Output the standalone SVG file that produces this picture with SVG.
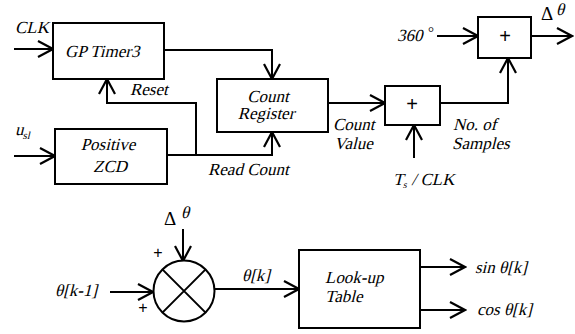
<svg xmlns="http://www.w3.org/2000/svg" width="575" height="334" viewBox="0 0 575 334">
<defs>
<marker id="arr" markerUnits="userSpaceOnUse" markerWidth="18" markerHeight="20" refX="16" refY="9" orient="auto" viewBox="0 0 18 20">
<path d="M1,1 L16,9 L1,17" fill="none" stroke="#000" stroke-width="2.2" stroke-linejoin="miter"/>
</marker>
<style>
.box{fill:#fff;stroke:#000;stroke-width:2}
.ln{fill:none;stroke:#000;stroke-width:2}
text{fill:#000;font-family:"Liberation Serif","Times New Roman",serif}
.t{font-size:17px}
.m{text-anchor:middle}
.s{font-family:"Liberation Sans",Arial,sans-serif;font-size:20px}
.p{font-family:"Liberation Sans",Arial,sans-serif;font-size:16px;text-anchor:middle}
</style>
</defs>
<rect width="575" height="334" fill="#fff"/>
<g id="connectors">
<path class="ln" d="M14,49 H53" marker-end="url(#arr)"/>
<path class="ln" d="M164,50 H272 V79" marker-end="url(#arr)"/>
<path class="ln" d="M14,156 H55" marker-end="url(#arr)"/>
<path class="ln" d="M167,155 H272 V132" marker-end="url(#arr)"/>
<path class="ln" d="M196,155 V103 H107 V79" marker-end="url(#arr)"/>
<path class="ln" d="M328,103 H385" marker-end="url(#arr)"/>
<path class="ln" d="M414,158 V125" marker-end="url(#arr)"/>
<path class="ln" d="M440,103 H508 V58" marker-end="url(#arr)"/>
<path class="ln" d="M437,36 H478" marker-end="url(#arr)"/>
<path class="ln" d="M531,36 H572" marker-end="url(#arr)"/>
<path class="ln" d="M183,229 V261" marker-end="url(#arr)"/>
<path class="ln" d="M110,292 H153" marker-end="url(#arr)"/>
<path class="ln" d="M215,289 H299" marker-end="url(#arr)"/>
<path class="ln" d="M420,267 H465" marker-end="url(#arr)"/>
<path class="ln" d="M420,310 H465" marker-end="url(#arr)"/>
</g>
<g id="timer">
<rect class="box" x="53" y="23" width="111" height="56"/>
<text class="t" transform="translate(65,57) skewX(-14)">GP Timer3</text>
</g>
<g id="zcd">
<rect class="box" x="55" y="129" width="112" height="55"/>
<text class="t m" transform="translate(108,150) skewX(-14)">Positive</text>
<text class="t m" transform="translate(110,172) skewX(-14)">ZCD</text>
</g>
<g id="countreg">
<rect class="box" x="217" y="79" width="111" height="53"/>
<text class="t m" transform="translate(268,102) skewX(-14)">Count</text>
<text class="t m" transform="translate(266,119) skewX(-14)">Register</text>
</g>
<g id="sum1">
<rect class="box" x="385" y="86" width="55" height="39"/>
<text class="s m" x="412" y="111">+</text>
</g>
<g id="sum2">
<rect class="box" x="478" y="17" width="53" height="41"/>
<text class="s m" x="505" y="43">+</text>
</g>
<g id="adder">
<circle class="box" cx="184" cy="291" r="30.5"/>
<path class="ln" d="M162.4,269.4 L205.6,312.6 M205.6,269.4 L162.4,312.6"/>
</g>
<g id="lut">
<rect class="box" x="299" y="250" width="121" height="78"/>
<text class="t" transform="translate(325,283) skewX(-14)">Look-up</text>
<text class="t" transform="translate(325,302) skewX(-14)">Table</text>
</g>
<g id="labels">
<text class="t" transform="translate(15,33) skewX(-14)">CLK</text>
<text class="t" transform="translate(15,135) skewX(-14)">u<tspan font-size="11" dy="4">sl</tspan></text>
<text class="t" transform="translate(130,95) skewX(-14)">Reset</text>
<text class="t" transform="translate(208,175) skewX(-14)">Read Count</text>
<text class="t" transform="translate(333,130) skewX(-14)">Count</text>
<text class="t" transform="translate(334,149) skewX(-14)">Value</text>
<text class="t" transform="translate(453,130) skewX(-14)">No. of</text>
<text class="t" transform="translate(452,149) skewX(-14)">Samples</text>
<text class="t" transform="translate(393,185) skewX(-14)">T<tspan font-size="10" dy="3">s</tspan><tspan dy="-3"> / CLK</tspan></text>
<text class="t" transform="translate(397,41) skewX(-14)">360</text>
<text x="428" y="37" font-size="15">°</text>
<text x="541" y="20" font-size="19">Δ</text>
<text class="t" font-size="15" transform="translate(556,15) skewX(-14)">θ</text>
<text x="164" y="225" font-size="19">Δ</text>
<text class="t" font-size="15" transform="translate(181,218) skewX(-14)">θ</text>
<text class="p" x="158" y="258">+</text>
<text class="p" x="143" y="313">+</text>
<text class="t" transform="translate(55,296) skewX(-14)">θ[k-1]</text>
<text class="t" transform="translate(242,281) skewX(-14)">θ[k]</text>
<text class="t" transform="translate(475,273) skewX(-14)">sin θ[k]</text>
<text class="t" transform="translate(477,315) skewX(-14)">cos θ[k]</text>
</g>
</svg>
